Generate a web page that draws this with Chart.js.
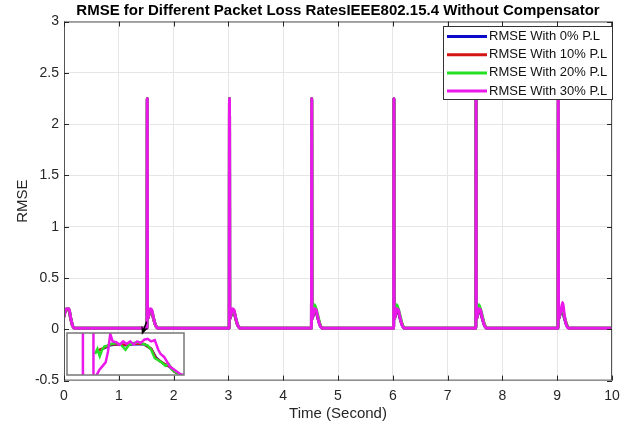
<!DOCTYPE html>
<html>
<head>
<meta charset="utf-8">
<script src="https://cdn.jsdelivr.net/npm/chart.js@4/dist/chart.umd.min.js"></script>
<style>
  body { margin: 0; background: #fff; }
  #wrap { position: relative; width: 644px; height: 426px; }
  #mainChart { position: absolute; left: 0; top: 0; }
  #insetChart { position: absolute; left: 62px; top: 316px; }
</style>
</head>
<body>
<div id="wrap">
  <canvas id="mainChart" width="644" height="426"></canvas>
  <canvas id="insetChart" width="126" height="62"></canvas>
</div>
<script>
// main plot data (time in seconds)
let time = [
  0, 0.02, 0.05, 0.09, 0.12, 0.16, 0.2,
  1.515, 1.52, 1.525, 1.55, 1.57, 1.6, 1.63, 1.67, 1.72,
  3.015, 3.02, 3.025, 3.05, 3.07, 3.1, 3.13, 3.17, 3.22,
  4.515, 4.52, 4.525, 4.55, 4.57, 4.6, 4.63, 4.67, 4.72,
  6.015, 6.02, 6.025, 6.05, 6.07, 6.1, 6.13, 6.17, 6.22,
  7.515, 7.52, 7.525, 7.55, 7.57, 7.6, 7.63, 7.67, 7.72,
  9.015, 9.02, 9.025, 9.05, 9.07, 9.1, 9.13, 9.17, 9.22,
  10
];

let rmse_0 = [
  0.12, 0.17, 0.19, 0.19, 0.11, 0.03, 0.01,
  0.01, 2.25, 0.1, 0.14, 0.18, 0.17, 0.11, 0.04, 0.01,
  0.01, 2.25, 0.1, 0.14, 0.18, 0.17, 0.11, 0.04, 0.01,
  0.01, 2.25, 0.1, 0.14, 0.18, 0.17, 0.11, 0.04, 0.01,
  0.01, 2.25, 0.1, 0.14, 0.18, 0.17, 0.11, 0.04, 0.01,
  0.01, 2.25, 0.1, 0.14, 0.18, 0.17, 0.11, 0.04, 0.01,
  0.01, 2.25, 0.1, 0.14, 0.18, 0.17, 0.11, 0.04, 0.01,
  0.01
];
let rmse_10 = [
  0.12, 0.17, 0.19, 0.19, 0.11, 0.03, 0.01,
  0.01, 2.25, 0.1, 0.14, 0.18, 0.18, 0.11, 0.04, 0.01,
  0.01, 2.25, 0.1, 0.14, 0.18, 0.18, 0.11, 0.04, 0.01,
  0.01, 2.25, 0.1, 0.15, 0.2, 0.18, 0.12, 0.05, 0.01,
  0.01, 2.25, 0.1, 0.15, 0.2, 0.18, 0.12, 0.05, 0.01,
  0.01, 2.25, 0.1, 0.15, 0.2, 0.18, 0.12, 0.05, 0.01,
  0.01, 2.25, 0.1, 0.15, 0.19, 0.19, 0.12, 0.05, 0.01,
  0.01
];
let rmse_20 = [
  0.12, 0.18, 0.2, 0.2, 0.12, 0.03, 0.01,
  0.01, 2.25, 0.1, 0.15, 0.19, 0.18, 0.12, 0.04, 0.01,
  0.01, 2.25, 0.1, 0.15, 0.19, 0.18, 0.12, 0.04, 0.01,
  0.01, 2.25, 0.1, 0.16, 0.24, 0.2, 0.14, 0.05, 0.01,
  0.01, 2.25, 0.1, 0.16, 0.24, 0.2, 0.14, 0.05, 0.01,
  0.01, 2.25, 0.1, 0.16, 0.24, 0.2, 0.14, 0.05, 0.01,
  0.01, 2.25, 0.1, 0.16, 0.2, 0.2, 0.13, 0.05, 0.01,
  0.01
];
let rmse_30 = [
  0.12, 0.18, 0.2, 0.2, 0.12, 0.03, 0.01,
  0.01, 2.25, 0.1, 0.15, 0.2, 0.19, 0.12, 0.04, 0.01,
  0.01, 2.25, 0.1, 0.15, 0.2, 0.19, 0.12, 0.04, 0.01,
  0.01, 2.25, 0.1, 0.15, 0.2, 0.19, 0.12, 0.04, 0.01,
  0.01, 2.25, 0.1, 0.15, 0.2, 0.19, 0.12, 0.04, 0.01,
  0.01, 2.25, 0.1, 0.15, 0.2, 0.19, 0.12, 0.04, 0.01,
  0.01, 2.25, 0.1, 0.15, 0.18, 0.26, 0.14, 0.04, 0.01,
  0.01
];

let labels = ['RMSE With 0% P.L', 'RMSE With 10% P.L', 'RMSE With 20% P.L', 'RMSE With 30% P.L'];
let colors = ['#0a0ac8', '#d41515', '#25e025', '#ea18ea'];
let chartTitle = 'RMSE for Different Packet Loss RatesIEEE802.15.4 Without Compensator';

// zoomed inset (normalised units of the inset box)
let inset_u0 = [0.25, 0.28, 0.32, 0.36, 0.42, 0.5, 0.58, 0.66, 0.72, 0.76, 0.8, 0.84, 0.88, 0.92, 0.96];
let inset_v0 = [0.55, 0.6, 0.64, 0.7, 0.73, 0.71, 0.74, 0.73, 0.62, 0.42, 0.32, 0.25, 0.19, 0.08, 0.02];
let inset_u10 = [0.25, 0.28, 0.32, 0.36, 0.42, 0.5, 0.58, 0.66, 0.72, 0.76, 0.8, 0.84, 0.88, 0.92, 0.96];
let inset_v10 = [0.55, 0.6, 0.65, 0.72, 0.74, 0.72, 0.75, 0.74, 0.62, 0.4, 0.32, 0.25, 0.2, 0.08, 0.02];
let inset_u20 = [0.24, 0.26, 0.28, 0.3, 0.32, 0.35, 0.38, 0.42, 0.46, 0.5, 0.53, 0.57, 0.61, 0.65, 0.69, 0.72, 0.75, 0.78, 0.81, 0.84, 0.87, 0.9, 0.94, 0.97];
let inset_v20 = [0.5, 0.62, 0.45, 0.6, 0.68, 0.7, 0.74, 0.76, 0.72, 0.6, 0.72, 0.76, 0.78, 0.74, 0.7, 0.6, 0.4, 0.35, 0.3, 0.22, 0.26, 0.12, 0.05, 0.0];
let inset_u30 = [0.136, 0.136, 0.226, 0.226, 0.254, 0.276, 0.3, 0.33, 0.35, 0.37, 0.39, 0.42, 0.45, 0.48, 0.51, 0.54, 0.57, 0.6, 0.63, 0.66, 0.69, 0.72, 0.75, 0.78, 0.8, 0.83, 0.88, 0.92, 0.97, 1.0];
let inset_v30 = [-0.3, 1.4, 1.4, -0.3, 0.0, 0.12, 0.2, 0.3, 0.55, 0.98, 0.8, 0.78, 0.72, 0.8, 0.74, 0.8, 0.73, 0.8, 0.76, 0.84, 0.86, 0.8, 0.83, 0.6, 0.5, 0.43, 0.2, 0.12, 0.02, 0.0];

// arrow from the spike at 1.5 s into the inset (inset units)
let arrow_from = [0.68, 1.27];
let arrow_to = [0.64, 0.96];

function toPoints(xs, ys) {
  return xs.map((x, i) => ({x: x, y: ys[i]}));
}

const FONT = "'Liberation Sans', Arial, sans-serif";
const TXT = '#262626';

let mainSeries = [rmse_0, rmse_10, rmse_20, rmse_30];

let frameAndLegend = {
  id: 'frameAndLegend',
  afterDatasetsDraw(chart) {
    const {ctx, chartArea: a, scales} = chart;
    ctx.save();
    // box around axes
    ctx.strokeStyle = '#555';
    ctx.lineWidth = 1;
    ctx.strokeRect(a.left + 0.5, a.top + 0.5, a.right - a.left - 1, a.bottom - a.top - 1);
    // inward ticks
    ctx.strokeStyle = TXT;
    ctx.beginPath();
    scales.x.ticks.forEach(t => {
      const px = Math.round(scales.x.getPixelForValue(t.value)) + 0.5;
      ctx.moveTo(px, a.bottom); ctx.lineTo(px, a.bottom - 5);
      ctx.moveTo(px, a.top); ctx.lineTo(px, a.top + 5);
    });
    scales.y.ticks.forEach(t => {
      const py = Math.round(scales.y.getPixelForValue(t.value)) + 0.5;
      ctx.moveTo(a.left, py); ctx.lineTo(a.left + 5, py);
      ctx.moveTo(a.right, py); ctx.lineTo(a.right - 5, py);
    });
    ctx.stroke();

    // legend
    const w = 170, h = 74;
    const x = a.right - w + 1, y = a.top + 4.5;
    ctx.fillStyle = '#fff';
    ctx.fillRect(x, y, w, h);
    ctx.strokeStyle = '#333';
    ctx.strokeRect(x + 0.5, y + 0.5, w - 1, h - 1);
    ctx.font = '13px ' + FONT;
    ctx.textBaseline = 'middle';
    ctx.textAlign = 'left';
    chart.data.datasets.forEach((ds, i) => {
      const ry = y + 10.5 + i * 18.2;
      ctx.strokeStyle = ds.borderColor;
      ctx.lineWidth = 3;
      ctx.beginPath();
      ctx.moveTo(x + 4, ry); ctx.lineTo(x + 44, ry);
      ctx.stroke();
      ctx.fillStyle = '#111';
      ctx.fillText(ds.label, x + 46, ry);
    });

    // title centred over the axes
    ctx.font = 'bold 15px ' + FONT;
    ctx.fillStyle = '#000';
    ctx.textAlign = 'center';
    ctx.fillText(chartTitle, (a.left + a.right) / 2, 11);
    ctx.restore();
  }
};

let mainChart = new Chart('mainChart', {
  type: 'line',
  data: {
    datasets: mainSeries.map((vals, i) => ({
      label: labels[i],
      data: toPoints(time, vals),
      borderColor: colors[i],
      backgroundColor: colors[i],
      borderWidth: 3,
      pointRadius: 0,
      cubicInterpolationMode: 'monotone',
      order: 3 - i
    }))
  },
  options: {
    responsive: false,
    animation: false,
    layout: { padding: { top: 21.5, right: 32, bottom: 0, left: 0 } },
    plugins: {
      legend: { display: false },
      tooltip: { enabled: false },
      title: { display: false }
    },
    scales: {
      x: {
        type: 'linear',
        min: 0,
        max: 10,
        afterFit: s => { s.height = 45.4; },
        grid: { color: '#e6e6e6', drawTicks: false },
        border: { display: false },
        ticks: { stepSize: 1, padding: 7, color: TXT, font: { family: FONT, size: 14 } },
        title: { display: true, text: 'Time (Second)', color: TXT, font: { family: FONT, size: 15 }, padding: { top: 0, bottom: 3 } }
      },
      y: {
        min: -0.5,
        max: 3,
        afterFit: s => { s.width = 64; },
        grid: { color: '#e6e6e6', drawTicks: false },
        border: { display: false },
        ticks: { stepSize: 0.5, padding: 5, color: TXT, font: { family: FONT, size: 14 }, callback: v => String(v) },
        title: { display: true, text: 'RMSE', color: TXT, font: { family: FONT, size: 15 }, padding: { top: 14, bottom: 0 } }
      }
    }
  },
  plugins: [frameAndLegend]
});

// inset chart
let insetBox = {
  id: 'insetBox',
  beforeDatasetsDraw(chart) {
    const {ctx, chartArea: a} = chart;
    ctx.save();
    ctx.fillStyle = '#fff';
    ctx.fillRect(a.left, a.top, a.right - a.left, a.bottom - a.top);
    ctx.restore();
  },
  afterDatasetsDraw(chart) {
    const {ctx, chartArea: a, scales} = chart;
    ctx.save();
    ctx.strokeStyle = '#777';
    ctx.lineWidth = 1.5;
    ctx.strokeRect(a.left, a.top, a.right - a.left, a.bottom - a.top);
    // arrow
    const x1 = scales.x.getPixelForValue(arrow_from[0]), y1 = scales.y.getPixelForValue(arrow_from[1]);
    const x2 = scales.x.getPixelForValue(arrow_to[0]), y2 = scales.y.getPixelForValue(arrow_to[1]);
    const ang = Math.atan2(y2 - y1, x2 - x1);
    ctx.strokeStyle = '#000';
    ctx.fillStyle = '#000';
    ctx.lineWidth = 1.5;
    ctx.beginPath();
    ctx.moveTo(x1, y1); ctx.lineTo(x2 - 5 * Math.cos(ang), y2 - 5 * Math.sin(ang));
    ctx.stroke();
    ctx.beginPath();
    ctx.moveTo(x2, y2);
    ctx.lineTo(x2 - 9 * Math.cos(ang - 0.4), y2 - 9 * Math.sin(ang - 0.4));
    ctx.lineTo(x2 - 6 * Math.cos(ang), y2 - 6 * Math.sin(ang));
    ctx.lineTo(x2 - 9 * Math.cos(ang + 0.4), y2 - 9 * Math.sin(ang + 0.4));
    ctx.closePath();
    ctx.fill();
    ctx.restore();
  }
};

let insetSeries = [
  [inset_u0, inset_v0],
  [inset_u10, inset_v10],
  [inset_u20, inset_v20],
  [inset_u30, inset_v30]
];

let insetChart = new Chart('insetChart', {
  type: 'line',
  data: {
    datasets: insetSeries.map((s, i) => ({
      label: labels[i],
      data: toPoints(s[0], s[1]),
      borderColor: colors[i],
      borderWidth: 2.5,
      pointRadius: 0,
      tension: 0,
      clip: 0,
      order: 3 - i
    }))
  },
  options: {
    responsive: false,
    animation: false,
    layout: { padding: { top: 17, right: 4, bottom: 3, left: 5 } },
    plugins: { legend: { display: false }, tooltip: { enabled: false }, title: { display: false } },
    scales: {
      x: { type: 'linear', min: 0, max: 1, display: false },
      y: { min: 0, max: 1, display: false }
    }
  },
  plugins: [insetBox]
});
</script>
</body>
</html>
